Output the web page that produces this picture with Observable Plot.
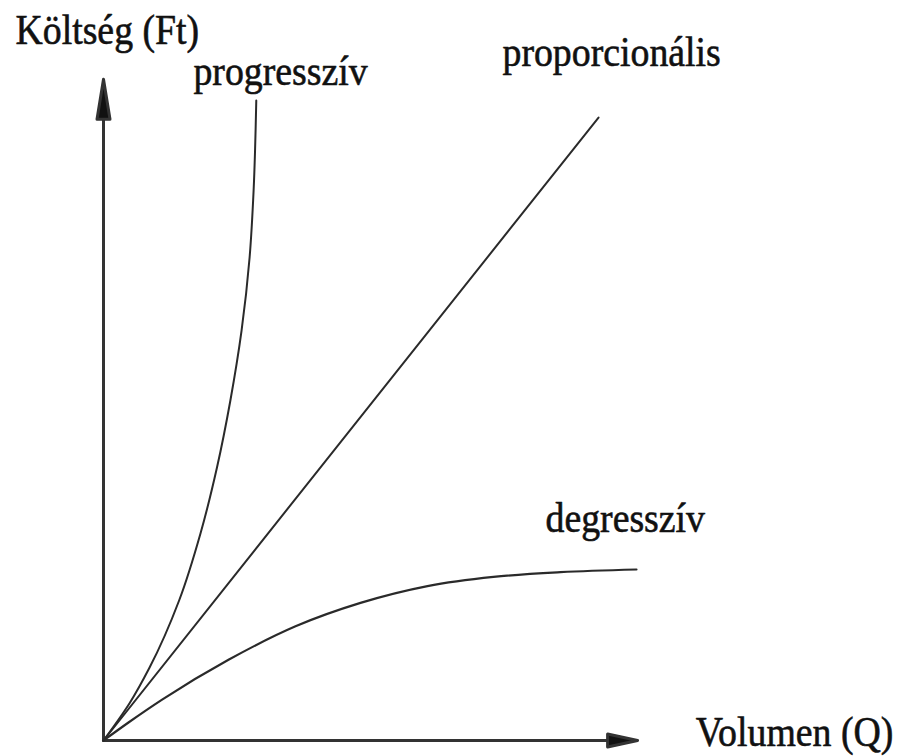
<!DOCTYPE html>
<html>
<head>
<meta charset="utf-8">
<script src="https://cdn.jsdelivr.net/npm/d3@7"></script>
<script src="https://cdn.jsdelivr.net/npm/@observablehq/plot@0.6"></script>
<style>
  html, body { margin: 0; padding: 0; background: #fff; }
  #chart svg { display: block; }
</style>
</head>
<body>
<div id="chart"></div>
<script>
// ---- data (volume Q on x, cost Ft on y; arbitrary units 0..100) ----
const progQ    = [0, 4.85, 8.63, 14.16, 18.16, 21.25, 23.76, 25.86, 27.36, 28.11, 28.61];
const progCost = [0, 5.60, 11.04, 21.18, 31.32, 41.30, 51.44, 62.03, 73.07, 83.21, 96.82];

const propQ    = [0, 92.7];
const propCost = [0, 94.25];

const degQ     = [0, 4.68, 11.05, 23.41, 35.96, 48.13, 60.67, 73.03, 85.58, 99.81];
const degCost  = [0, 2.72, 6.22, 12.21, 17.28, 20.82, 23.36, 24.75, 25.46, 25.87];

// axes (end = base of the arrow head)
const xAxisQ = [0, 94.4], xAxisCost = [0, 0];
const yAxisQ = [0, 0],    yAxisCost = [0, 94.0];

// labels
const labelText = ["Költség (Ft)", "progresszív", "proporcionális", "degresszív", "Volumen (Q)"];
const labelQ    = [-16.48, 16.85, 74.72, 82.77, 110.9];
const labelCost = [105.4, 99.1, 102.1, 31.47, -0.76];

// ---- build tables ----
const zip = (xs, ys) => xs.map((x, i) => ({q: x, c: ys[i]}));
const prog = zip(progQ, progCost);
const prop = zip(propQ, propCost);
const deg = zip(degQ, degCost);
const xAxis = zip(xAxisQ, xAxisCost);
const yAxis = zip(yAxisQ, yAxisCost);
const labels = labelText.map((t, i) => ({t, q: labelQ[i], c: labelCost[i]}));

function arrowHead(len, half) {
  return () => {
    const m = d3.create("svg:marker")
      .attr("viewBox", `0 ${-half} ${len} ${2 * half}`)
      .attr("markerUnits", "userSpaceOnUse")
      .attr("markerWidth", len)
      .attr("markerHeight", 2 * half)
      .attr("refX", 0)
      .attr("refY", 0)
      .attr("orient", "auto")
      .attr("overflow", "visible");
    m.append("path")
      .attr("d", `M0,${-half}L${len},0L0,${half}Z`)
      .attr("fill", "#111");
    return m.node();
  };
}

const chart = Plot.plot({
  width: 908,
  height: 756,
  marginLeft: 103,
  marginRight: 271,
  marginTop: 79,
  marginBottom: 16,
  x: {domain: [0, 100], axis: null},
  y: {domain: [0, 100], axis: null},
  style: {background: "#fff", fontFamily: "'Liberation Serif', 'Times New Roman', serif"},
  marks: [
    Plot.line(xAxis, {x: "q", y: "c", stroke: "#333", strokeWidth: 3, markerEnd: arrowHead(30, 6.5)}),
    Plot.line(yAxis, {x: "q", y: "c", stroke: "#333", strokeWidth: 3, markerEnd: arrowHead(40, 6.5)}),
    Plot.line(prog, {x: "q", y: "c", stroke: "#2a2a2a", strokeWidth: 2, curve: "monotone-y"}),
    Plot.line(prop, {x: "q", y: "c", stroke: "#2a2a2a", strokeWidth: 2}),
    Plot.line(deg, {x: "q", y: "c", stroke: "#2a2a2a", strokeWidth: 2.2, curve: "monotone-x"}),
    Plot.text(labels, {
      x: "q", y: "c", text: "t",
      textAnchor: "start", lineAnchor: "bottom",
      fontSize: 42, fill: "#111", stroke: "#111", strokeWidth: 0.6,
      fontFamily: "'Liberation Serif', 'Times New Roman', serif"
    })
  ]
});

document.getElementById("chart").appendChild(chart);

// condense the label glyphs horizontally, like the reference typography
d3.select(chart).selectAll("text").each(function () {
  const t = this.getAttribute("transform");
  if (t) {
    this.setAttribute("transform", t + " scale(0.9,1)");
  } else {
    const w = this.getComputedTextLength();
    this.setAttribute("textLength", (w * 0.9).toFixed(1));
    this.setAttribute("lengthAdjust", "spacingAndGlyphs");
  }
});
</script>
</body>
</html>
